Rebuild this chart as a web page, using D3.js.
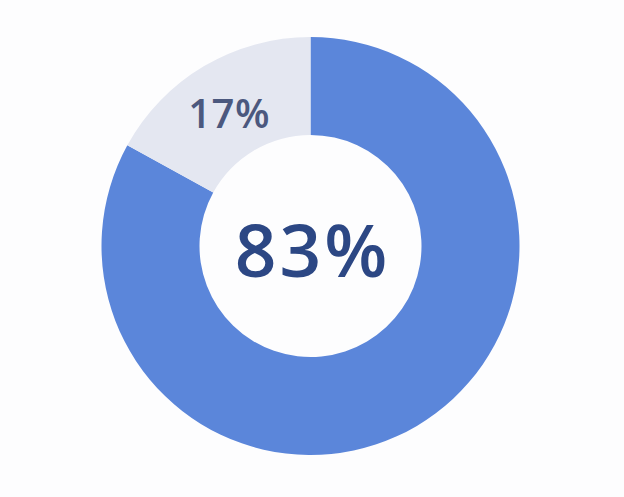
<!DOCTYPE html>
<html>
<head>
<meta charset="utf-8">
<script src="https://cdn.jsdelivr.net/npm/d3@7"></script>
<style>
  html, body { margin: 0; padding: 0; background: #fdfdfe; }
  svg { display: block; }
</style>
</head>
<body>
<div id="chart"></div>
<script>
// slice data
const labels = ["Yes", "No"];
const values = [83, 17];
const colors = ["#5b86da", "#e4e7f1"];

const width = 624, height = 497;
const cx = 310.5, cy = 246;
const outerR = 209, innerR = 111;

const svg = d3.select("#chart").append("svg")
    .attr("width", width)
    .attr("height", height);

const g = svg.append("g").attr("transform", `translate(${cx},${cy})`);

// pie goes clockwise from 12 o'clock, big slice first
const pie = d3.pie().sort(null).value(d => d);
const arc = d3.arc().innerRadius(innerR).outerRadius(outerR);

const arcs = pie(values);

g.selectAll("path")
    .data(arcs).enter().append("path")
    .attr("d", arc)
    .attr("fill", (d, i) => colors[i]);

// small slice label sits on the centroid
g.append("text")
    .attr("transform", `translate(${arc.centroid(arcs[1])})`)
    .attr("dy", "4")
    .attr("text-anchor", "middle")
    .attr("dominant-baseline", "central")
    .attr("font-family", "Open Sans, Noto Sans, sans-serif")
    .attr("font-weight", 600)
    .attr("font-size", 40)
    .attr("letter-spacing", 0.5)
    .attr("fill", "#4b587e")
    .text(values[1] + "%");

// big number in the middle
g.append("text")
    .attr("x", 2)
    .attr("y", 2)
    .attr("text-anchor", "middle")
    .attr("dominant-baseline", "central")
    .attr("font-family", "Open Sans, Noto Sans, sans-serif")
    .attr("font-weight", 600)
    .attr("font-size", 73)
    .attr("letter-spacing", 3)
    .attr("fill", "#2c4784")
    .text(values[0] + "%");
</script>
</body>
</html>
